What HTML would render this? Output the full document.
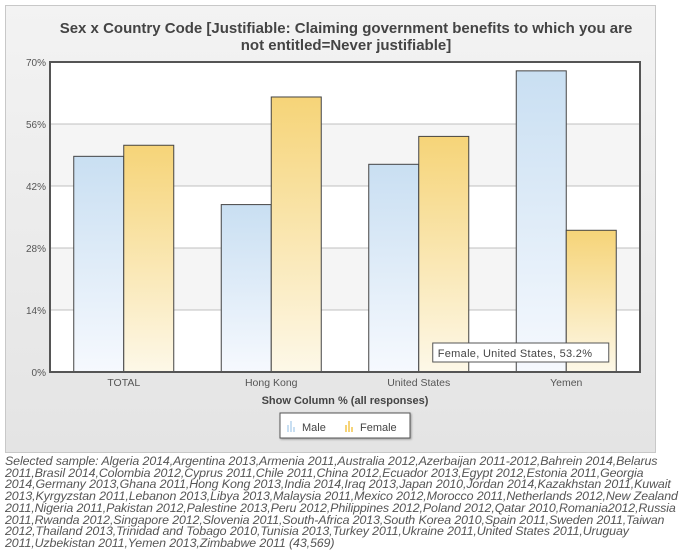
<!DOCTYPE html>
<html><head><meta charset="utf-8"><style>
body{margin:0;width:692px;height:557px;background:#fff;font-family:"Liberation Sans",sans-serif;position:relative;overflow:hidden}
#panel{position:absolute;left:5px;top:5px;width:649px;height:446px;border:1px solid #c8c8c8;background:linear-gradient(#f3f3f3,#e4e4e4)}
#note{position:absolute;left:5px;top:456px;font-style:italic;font-size:12.4px;line-height:11.7px;color:#555;letter-spacing:-0.1px}
#note div{white-space:nowrap}
</style></head><body>
<div id="panel"></div>
<svg id="chart" width="692" height="457" style="position:absolute;left:0;top:0">
<defs>
<linearGradient id="gm" x1="0" y1="0" x2="0" y2="1"><stop offset="0" stop-color="#c9dff2"/><stop offset="1" stop-color="#f6f9fe"/></linearGradient>
<linearGradient id="gf" x1="0" y1="0" x2="0" y2="1"><stop offset="0" stop-color="#f6d478"/><stop offset="1" stop-color="#fdf8e8"/></linearGradient>
</defs>
<text x="346" y="33" text-anchor="middle" font-size="15" font-weight="bold" fill="#444">Sex x Country Code [Justifiable: Claiming government benefits to which you are</text>
<text x="346" y="50" text-anchor="middle" font-size="15" font-weight="bold" fill="#444">not entitled=Never justifiable]</text>
<g id="plot"></g>
<text x="345" y="404" text-anchor="middle" font-size="11" font-weight="bold" fill="#444">Show Column % (all responses)</text>
<g>
<rect x="280" y="413" width="130" height="25" fill="#fff" stroke="#555" style="filter:drop-shadow(1px 1px 1px #999)"/>
<g><rect x="287" y="425" width="2" height="7" fill="#c9dff2"/><rect x="290" y="421" width="2" height="11" fill="#c9dff2"/><rect x="293" y="427" width="2" height="5" fill="#c9dff2"/>
<text x="302" y="431" font-size="11" fill="#444">Male</text></g>
<g><rect x="345" y="425" width="2" height="7" fill="#f6d478"/><rect x="348" y="421" width="2" height="11" fill="#f6d478"/><rect x="351" y="427" width="2" height="5" fill="#f6d478"/>
<text x="360" y="431" font-size="11" fill="#444">Female</text></g>
</g>
</svg>
<div id="note">
<div>Selected sample: Algeria 2014,Argentina 2013,Armenia 2011,Australia 2012,Azerbaijan 2011-2012,Bahrein 2014,Belarus</div>
<div>2011,Brasil 2014,Colombia 2012,Cyprus 2011,Chile 2011,China 2012,Ecuador 2013,Egypt 2012,Estonia 2011,Georgia</div>
<div>2014,Germany 2013,Ghana 2011,Hong Kong 2013,India 2014,Iraq 2013,Japan 2010,Jordan 2014,Kazakhstan 2011,Kuwait</div>
<div>2013,Kyrgyzstan 2011,Lebanon 2013,Libya 2013,Malaysia 2011,Mexico 2012,Morocco 2011,Netherlands 2012,New Zealand</div>
<div>2011,Nigeria 2011,Pakistan 2012,Palestine 2013,Peru 2012,Philippines 2012,Poland 2012,Qatar 2010,Romania2012,Russia</div>
<div>2011,Rwanda 2012,Singapore 2012,Slovenia 2011,South-Africa 2013,South Korea 2010,Spain 2011,Sweden 2011,Taiwan</div>
<div>2012,Thailand 2013,Trinidad and Tobago 2010,Tunisia 2013,Turkey 2011,Ukraine 2011,United States 2011,Uruguay</div>
<div>2011,Uzbekistan 2011,Yemen 2013,Zimbabwe 2011 (43,569)</div>
</div>
<script>
const categories=["TOTAL","Hong Kong","United States","Yemen"];
const maleValues=[48.7,37.8,46.9,68.0];
const femaleValues=[51.2,62.1,53.2,32.0];
const tickValues=[0,14,28,42,56,70];
const tickLabels=["0%","14%","28%","42%","56%","70%"];
const NS="http://www.w3.org/2000/svg";
const L=50,R=640,T=62,B=372,MAX=70;
const y=v=>B-(v/MAX)*(B-T);
const step=(R-L)/categories.length;
const cx=i=>L+step*(i+0.5);
const bw=50;
const g=document.getElementById('plot');
function mk(tag,attrs){const e=document.createElementNS(NS,tag);for(const k in attrs)e.setAttribute(k,attrs[k]);g.appendChild(e);return e;}
let bg=mk('rect',{x:L,y:T,width:R-L,height:B-T,fill:'#fff'});


for(let i=0;i<tickValues.length-1;i++){
  if(i%2===1){let b=mk('rect',{x:L,y:y(tickValues[i+1]),width:R-L,height:y(tickValues[i])-y(tickValues[i+1]),fill:'#f5f5f5'});
  
  }
}
tickValues.forEach((v,i)=>{
  let l=mk('line',{x1:L,x2:R,y1:y(v),y2:y(v),stroke:'#c0c0c0','stroke-width':1});
  
  
  let t=mk('text',{x:L-4,y:y(v)+4,'text-anchor':'end','font-size':10,fill:'#555'});
  t.textContent=tickLabels[i];
  
  
});
categories.forEach((c,i)=>{
  let m=mk('rect',{x:cx(i)-bw,y:y(maleValues[i]),width:bw,height:B-y(maleValues[i]),fill:'url(#gm)',stroke:'#444','stroke-width':1});
  
  
  let f=mk('rect',{x:cx(i),y:y(femaleValues[i]),width:bw,height:B-y(femaleValues[i]),fill:'url(#gf)',stroke:'#444','stroke-width':1});
  
  
  let t=mk('text',{x:cx(i),y:B+14,'text-anchor':'middle','font-size':10.5,fill:'#555'});
  t.textContent=c;
  
  
});
let fr=mk('rect',{x:L,y:T,width:R-L,height:B-T,fill:'none',stroke:'#555','stroke-width':2});


const ti=2;
let tip=mk('rect',{x:cx(ti)+14,y:343,width:176,height:19,fill:'#fff',stroke:'#555','stroke-width':1});


let tt=mk('text',{x:cx(ti)+19,y:357,'font-size':11,fill:'#444','letter-spacing':'0.3'});
tt.textContent='Female, '+categories[ti]+', '+femaleValues[ti]+'%';


</script>
</body></html>
